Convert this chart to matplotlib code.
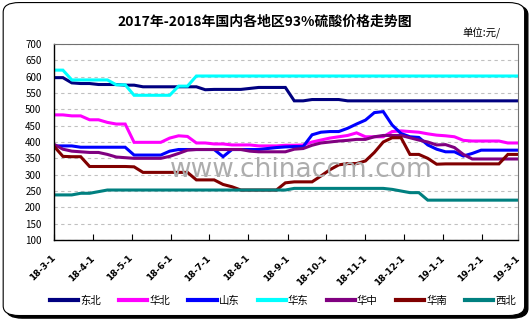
import matplotlib
matplotlib.use('Agg')
import matplotlib.pyplot as plt
import matplotlib.transforms as mtransforms
from matplotlib.patches import FancyBboxPatch
import pandas as pd

plt.rcParams['font.family'] = ['Noto Sans CJK SC', 'DejaVu Sans']

# weekly prices, 2018-03-01 .. 2019-02-28
dates = pd.date_range('2018-03-01', periods=53, freq='7D')

dongbei = [597, 597, 581, 579, 579, 576, 576, 576, 574, 574, 569, 569, 569, 569, 569, 569, 569, 560,
           561, 561, 561, 561, 564, 567, 567, 567, 567, 526, 526, 530, 530, 530, 530, 526, 526, 526,
           526, 526, 526, 526, 526, 526, 526, 526, 526, 526, 526, 526, 526, 526, 526, 526, 526]
huabei = [483, 483, 480, 480, 468, 468, 460, 455, 455, 399, 399, 399, 399, 412, 419, 417, 397, 397,
          394, 394, 391, 391, 391, 388, 388, 388, 390, 390, 391, 400, 406, 412, 416, 420, 428, 416,
          416, 416, 432, 434, 432, 430, 425, 421, 419, 416, 405, 403, 403, 403, 403, 397, 397]
shandong = [388, 388, 388, 384, 384, 384, 384, 384, 384, 360, 360, 360, 360, 372, 377, 377, 377, 377,
            377, 355, 377, 377, 377, 377, 380, 383, 385, 386, 386, 422, 430, 432, 432, 442, 455, 467,
            490, 493, 452, 426, 416, 414, 391, 378, 370, 370, 357, 365, 375, 375, 375, 375, 375]
huadong = [620, 620, 590, 590, 590, 590, 590, 575, 575, 543, 543, 543, 543, 543, 571, 571, 602, 602,
           602, 602, 602, 602, 602, 602, 602, 602, 602, 602, 602, 602, 602, 602, 602, 602, 602, 602,
           602, 602, 602, 602, 602, 602, 602, 602, 602, 602, 602, 602, 602, 602, 602, 602, 602]
huazhong = [393, 378, 372, 370, 368, 368, 362, 354, 352, 350, 350, 350, 350, 356, 365, 375, 377, 377,
            377, 377, 377, 377, 372, 370, 370, 370, 370, 378, 380, 390, 397, 400, 403, 405, 408, 408,
            416, 420, 420, 420, 413, 406, 400, 391, 392, 383, 362, 348, 348, 348, 348, 348, 348]
huanan = [387, 356, 355, 355, 325, 325, 325, 325, 325, 324, 307, 307, 307, 307, 307, 307, 284, 284,
          284, 270, 263, 253, 253, 253, 253, 253, 275, 278, 278, 278, 296, 315, 330, 334, 334, 342,
          368, 400, 413, 413, 362, 362, 350, 332, 333, 333, 333, 333, 333, 333, 333, 362, 362]
xibei = [238, 238, 238, 243, 243, 248, 253, 253, 253, 253, 253, 253, 253, 253, 253, 253, 253, 253,
         253, 253, 253, 253, 253, 253, 253, 253, 253, 258, 258, 258, 258, 258, 258, 258, 258, 258,
         258, 258, 255, 250, 245, 245, 222, 222, 222, 222, 222, 222, 222, 222, 222, 222, 222]

names = ['东北', '华北', '山东', '华东', '华中', '华南', '西北']
series = [dongbei, huabei, shandong, huadong, huazhong, huanan, xibei]
colors = ['#000080', '#ff00ff', '#0000ff', '#00ffff', '#800080', '#800000', '#008080']

tick_dates = pd.date_range('2018-03-01', '2019-03-01', freq='MS')
tick_labels = ['18-3-1', '18-4-1', '18-5-1', '18-6-1', '18-7-1', '18-8-1', '18-9-1',
               '18-10-1', '18-11-1', '18-12-1', '19-1-1', '19-2-1', '19-3-1']

fig = plt.figure(figsize=(5.31, 3.2), dpi=100)

# rounded frame with a dark shadow on the lower right
shadow = FancyBboxPatch((0.012, 0.006), 0.982, 0.978, boxstyle='round,pad=0,rounding_size=0.03',
                        transform=fig.transFigure, facecolor='black', edgecolor='black', zorder=-2)
frame = FancyBboxPatch((0.006, 0.014), 0.982, 0.978, boxstyle='round,pad=0,rounding_size=0.03',
                       transform=fig.transFigure, facecolor='white', edgecolor='black', lw=0.8, zorder=-1)
fig.patches.extend([shadow, frame])

ax = fig.add_axes([54 / 531, 1 - 240 / 320, 464 / 531, 196 / 320])
ax.set_facecolor('none')

for name, vals, c in zip(names, series, colors):
    ax.plot(dates, vals, color=c, lw=2.2, label=name, solid_joinstyle='miter')

ax.set_ylim(100, 700)
ax.set_yticks(range(100, 701, 50))
ax.set_xlim(tick_dates[0], tick_dates[-1])
ax.set_xticks(tick_dates)
ax.set_xticklabels(tick_labels, rotation=45, ha='right', va='center', rotation_mode='anchor',
                   fontsize=6.5, fontweight='bold', family='DejaVu Sans')
off = mtransforms.ScaledTranslation(-4 / 100, -2 / 100, fig.dpi_scale_trans)
for lbl in ax.get_xticklabels():
    lbl.set_transform(lbl.get_transform() + off)

ax.tick_params(axis='y', length=0, pad=9, labelsize=7)
ax.tick_params(axis='x', direction='in', length=4, width=0.8, pad=12)

ax.grid(axis='y', color='#c0c0c0', linestyle=(0, (3, 3)), lw=0.8)
ax.set_axisbelow(True)
for s in ['top', 'right']:
    ax.spines[s].set_linestyle((0, (1, 1)))
    ax.spines[s].set_color('#707070')
    ax.spines[s].set_linewidth(0.8)
for s in ['left', 'bottom']:
    ax.spines[s].set_color('black')
    ax.spines[s].set_linewidth(1.0)

fig.text(0.499, 0.931, '2017年-2018年国内各地区93%硫酸价格走势图', ha='center', va='center',
         fontsize=10, fontweight='bold')
fig.text(0.943, 0.897, '单位:元/', ha='right', va='center', fontsize=7.5)
fig.text(0.567, 0.469, 'www.chinaccm.com', ha='center', va='center', fontsize=19,
         color='#adadad', family='DejaVu Sans', zorder=0)

fig.legend(loc='center left', bbox_to_anchor=(50 / 531, 1 - 301 / 320), ncol=7, frameon=False,
           fontsize=7.5, handlelength=2.7, handletextpad=0.2, columnspacing=1.75,
           borderpad=0, borderaxespad=0)
for line in fig.legends[0].get_lines():
    line.set_linewidth(3)

fig.savefig('out.png', dpi=100)
